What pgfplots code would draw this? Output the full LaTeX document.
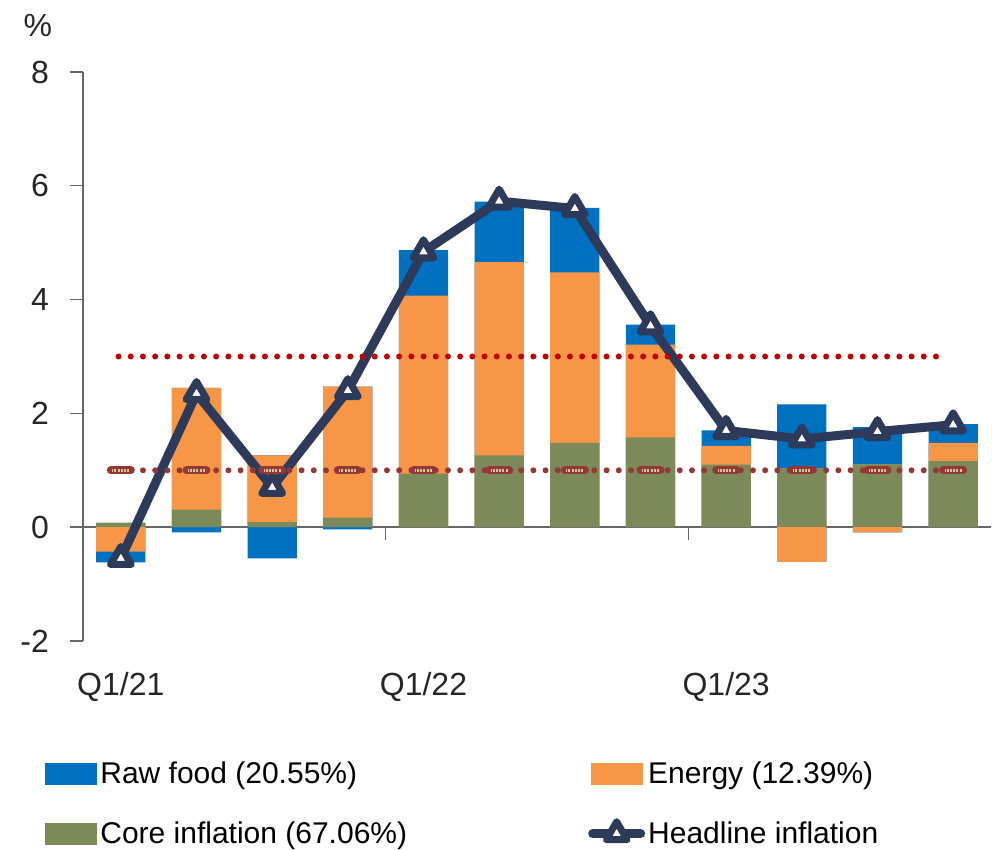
\documentclass[border=0pt]{standalone}
\usepackage{fontspec}
\setmainfont{Liberation Sans}
\usepackage{pgfplots}
\usepackage{pgfplotstable}
\pgfplotsset{compat=1.18}
\definecolor{cblue}{HTML}{0070C0}
\definecolor{corange}{HTML}{F79646}
\definecolor{cgreen}{HTML}{7C8A5A}
\definecolor{cnavy}{HTML}{2E3A59}
\definecolor{cred}{HTML}{C00000}
\definecolor{cmaroon}{HTML}{953735}
\definecolor{ckhaki}{HTML}{C9C99A}

\pgfplotstableread{
x core energy raw headline
0 0.075 -0.43 -0.19 -0.55
1 0.31 2.14 -0.09 2.35
2 0.09 1.17 -0.55 0.70
3 0.17 2.30 -0.04 2.40
4 0.94 3.13 0.80 4.84
5 1.26 3.40 1.06 5.73
6 1.48 3.00 1.13 5.60
7 1.58 1.63 0.35 3.54
8 1.10 0.33 0.27 1.70
9 1.04 -0.61 1.12 1.55
10 1.105 -0.09 0.655 1.68
11 1.16 0.32 0.33 1.80
}\data
\pgfplotstablecreatecol[create col/expr={max(\thisrow{core},0)}]{pc}\data
\pgfplotstablecreatecol[create col/expr={\thisrow{pc}+max(\thisrow{energy},0)}]{pe}\data
\pgfplotstablecreatecol[create col/expr={\thisrow{pe}+max(\thisrow{raw},0)}]{pr}\data
\pgfplotstablecreatecol[create col/expr={min(\thisrow{core},0)}]{nc}\data
\pgfplotstablecreatecol[create col/expr={\thisrow{nc}+min(\thisrow{energy},0)}]{ne}\data
\pgfplotstablecreatecol[create col/expr={\thisrow{ne}+min(\thisrow{raw},0)}]{nr}\data

\pgfplotsset{
  mybar/.style={ybar, bar width=0.65, bar shift=0pt, draw=none, fill=#1,
    legend image code/.code={\fill[##1] (0pt,-5.5pt) rectangle (26pt,5.5pt);}},
  headlegend/.style={legend image code/.code={\draw[mark repeat=2,mark phase=2,line cap=round,##1] plot coordinates {(1pt,0pt) (13pt,0pt) (25pt,0pt)};}}
}

\begin{document}
\begin{tikzpicture}
\begin{axis}[
  scale only axis, width=454pt, height=284.5pt,
  xmin=-0.5, xmax=11.5, ymin=-2, ymax=8,
  axis y line=left, axis x line=middle,
  axis line style={-, draw=black!60, line width=0.7pt},
  tick style={black!60, line width=0.7pt},
  tick align=outside, major tick length=6.5pt,
  xtick={-0.5,3.5,7.5}, xticklabels={},
  extra x ticks={0,4,8}, extra x tick labels={Q1/21,Q1/22,Q1/23},
  extra x tick style={major tick length=0pt, xticklabel style={yshift=-69pt}},
  ytick={-2,0,2,4,6,8},
  hide obscured x ticks=false, hide obscured y ticks=false,
  ticklabel style={font=\fontsize{16}{19}\selectfont, text=black!85},
  /pgf/number format/assume math mode=true,
  yticklabel style={xshift=-7pt},
  every axis y label/.style={at={(rel axis cs:-0.0496,1.0826)}, anchor=center, font=\fontsize{16}{19}\selectfont, text=black!85},
  ylabel={\%},
  clip=false,
  legend columns=2,
  legend cell align=left,
  legend style={draw=none, fill=none, at={(rel axis cs:-0.0419,-0.206)}, anchor=north west,
    inner sep=0pt, font=\fontsize{15}{18}\selectfont, row sep=14.5pt, nodes={inner sep=1.5pt},
    /tikz/every even column/.append style={column sep=89pt}},
]
\addplot[mybar=cblue] table[x=x,y=pr]{\data}; \addlegendentry{Raw food (20.55\%)}
\addplot[mybar=corange] table[x=x,y=pe]{\data}; \addlegendentry{Energy (12.39\%)}
\addplot[mybar=cgreen] table[x=x,y=pc]{\data}; \addlegendentry{Core inflation (67.06\%)}
\addplot[mybar=cblue, forget plot] table[x=x,y=nr]{\data};
\addplot[mybar=corange, forget plot] table[x=x,y=ne]{\data};
\addplot[cnavy, line width=4.5pt, line join=round, mark=triangle*, mark size=6pt,
  mark options={fill=white, draw=cnavy, line width=3.5pt, line join=round}, headlegend]
  table[x=x,y=headline]{\data}; \addlegendentry{Headline inflation}
\addplot[cred, line width=3pt, line cap=round, dash pattern=on 0pt off 6.1pt, forget plot] coordinates {(-0.03,3) (10.93,3)};
\addplot[cmaroon, line width=3pt, line cap=round, dash pattern=on 0pt off 6.1pt, forget plot] coordinates {(-0.03,1) (10.93,1)};
\addplot[only marks, mark=-, mark size=5pt, mark options={cmaroon, line width=4pt, line cap=round}, forget plot]
  coordinates {(0,1) (1,1) (2,1) (3,1) (4,1) (5,1) (6,1) (7,1) (8,1) (9,1) (10,1) (11,1)};
\addplot[only marks, mark=-, mark size=4.2pt, mark options={ckhaki, line width=1.6pt, dash pattern=on 1pt off 0.6pt}, forget plot]
  coordinates {(0,1) (1,1) (2,1) (3,1) (4,1) (5,1) (6,1) (7,1) (8,1) (9,1) (10,1) (11,1)};
\end{axis}
\path (current axis.south west) ++(-41.5pt,-104.5pt) rectangle ++(496pt,425pt);
\end{tikzpicture}
\end{document}
